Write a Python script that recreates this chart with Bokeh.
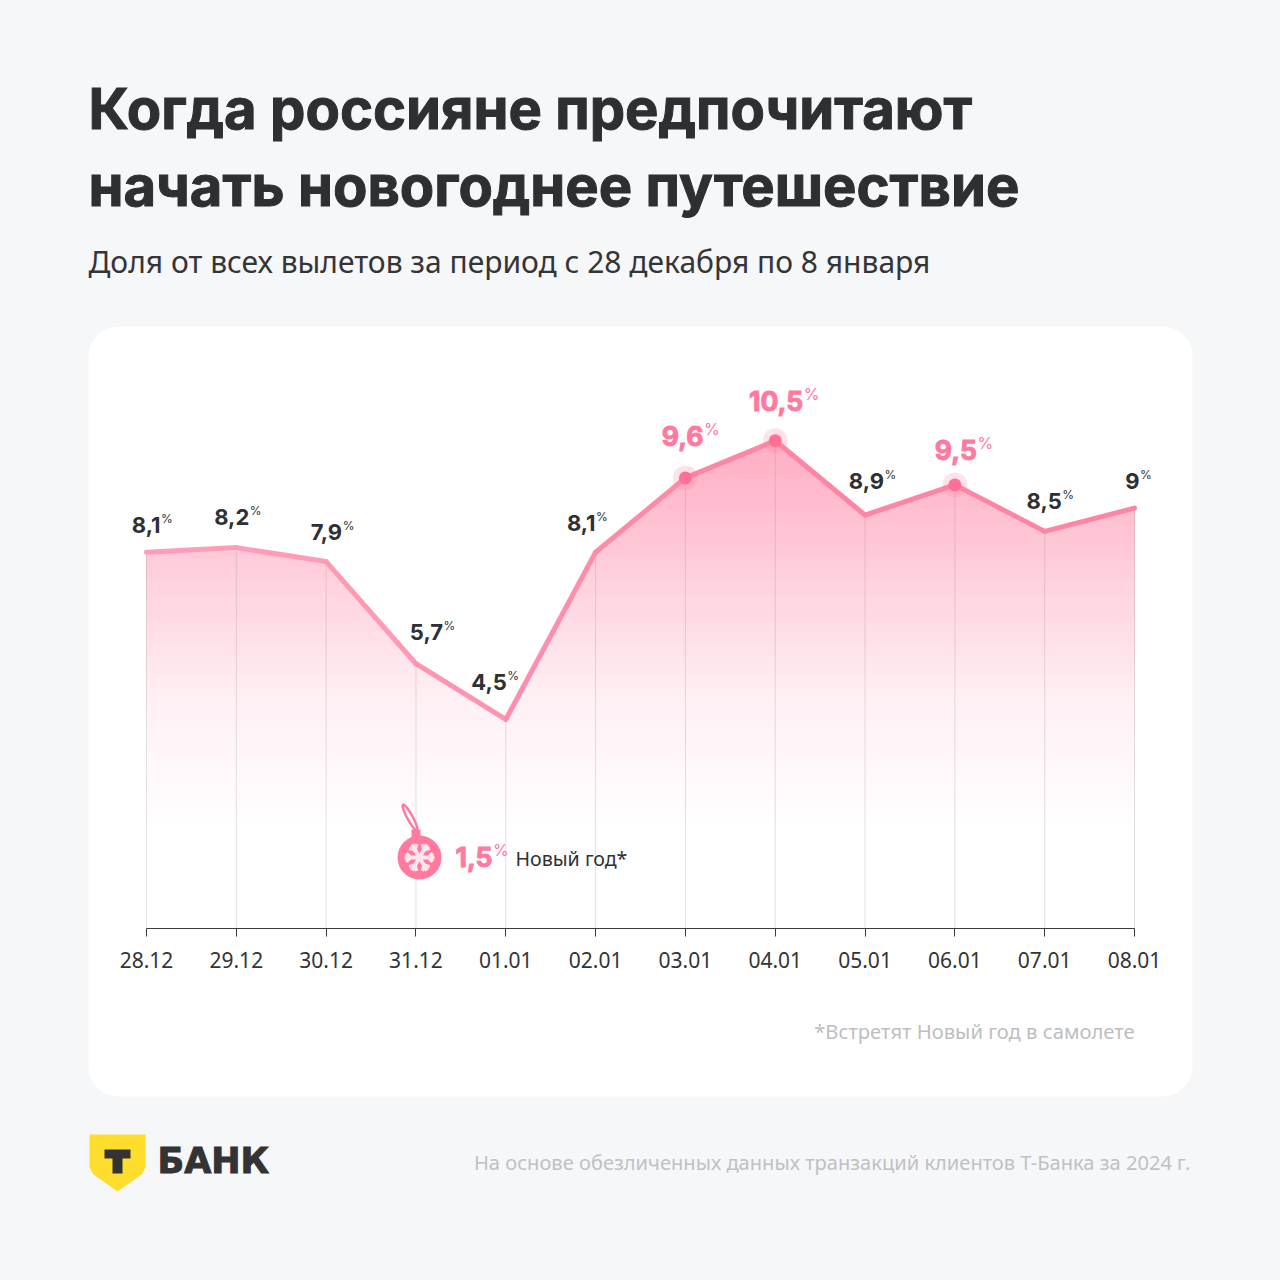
import numpy as np
from bokeh.plotting import figure
from bokeh.models import LinearAxis, FixedTicker, BoxAnnotation, GlobalInlineStyleSheet
from bokeh.core.properties import value
from bokeh.embed import file_html
from bokeh.resources import INLINE

# ---- data ----
dates = ["28.12","29.12","30.12","31.12","01.01","02.01","03.01","04.01","05.01","06.01","07.01","08.01"]
shares = [8.1, 8.2, 7.9, 5.7, 4.5, 8.1, 9.7, 10.5, 8.9, 9.55, 8.55, 9.05]
labels = ["8,1","8,2","7,9","5,7","4,5","8,1","9,6","10,5","8,9","9,5","8,5","9"]
highlighted = [6, 7, 9]
ny_value = "1,5"

# ---- layout (label anchor relative to the point, px) ----
label_dx = [14, 13, 16, 27, 1, 0, 18, 28, 19, 22, 17, 5]
label_cy = [524, 516, 531, 631, 681, 522, 435, 400, 480, 449, 500, 480]

BG = "#F6F7F9"; DARK = "#2F3033"; PINK = "#FF7A9E"
SANS = "Noto Sans"; HEAD = "Inter"
W = H = 1264
SX = 89.82; SY = 46.45
px = lambda x: (x - 146) / SX
py = lambda y: (928 - y) / SY

p = figure(width=W, height=H, output_backend="svg", toolbar_location=None,
           x_range=(px(0), px(W)), y_range=(py(H), py(0)),
           x_axis_location=None, y_axis_location=None, min_border=0,
           background_fill_color=BG, border_fill_color=BG, outline_line_color=None)
p.grid.visible = False
p.stylesheets = [GlobalInlineStyleSheet(css="html,body{background:%s;}" % BG)]

p.add_layout(BoxAnnotation(left=px(88), right=px(1192), top=py(326), bottom=py(1096),
                           border_radius=30, fill_color="white", fill_alpha=1,
                           line_color=None, level="underlay"))

def txt(x, y, s, size, color=DARK, style="normal", align="left", font=SANS, heavy=False):
    kw = dict(text_outline_color=color) if heavy else {}
    p.text([px(x)], [py(y)], text=[s], text_font=value(font), text_font_size=f"{size}px",
           text_font_style=style, text_color=color, text_align=align, text_baseline="middle", **kw)

# titles
txt(88, 108.5, "Когда россияне предпочитают", 56.2, "#2E2F31", "bold", font=HEAD, heavy=True)
txt(88, 185.5, "начать новогоднее путешествие", 56.2, "#2E2F31", "bold", font=HEAD, heavy=True)
txt(88, 261, "Доля от всех вылетов за период с 28 декабря по 8 января", 30, "#343537")

# gradient area: colour stops follow the picture's vertical fade
xs = np.arange(len(shares), dtype=float)
ys = np.array(shares)
stop_y = [py(830), py(800), py(700), py(552), py(440)]
stop_d = [0, 4, 15, 54, 82]
levels = np.arange(py(830), 10.6, 0.08)
for L in levels:
    cross = []
    for i in range(len(xs) - 1):
        a, b = ys[i], ys[i + 1]
        if (a - L) * (b - L) < 0:
            cross.append(xs[i] + (L - a) / (b - a))
    gx = np.sort(np.concatenate([xs, cross]))
    gy = np.interp(gx, xs, ys)
    d = float(np.interp(L, stop_y, stop_d))
    col = "#%02x%02x%02x" % (255, round(255 - d), round(255 - 0.73 * d))
    p.varea(gx, np.full_like(gx, L), np.maximum(gy, L), fill_color=col, fill_alpha=1)

# grid stems
p.segment(xs, 0 * xs, xs, ys, line_color="#8A8A8A", line_alpha=0.25, line_width=1)

# axis
ax = LinearAxis(fixed_location=0, ticker=FixedTicker(ticks=list(range(len(dates)))),
                major_label_overrides={i: d for i, d in enumerate(dates)})
ax.bounds = (0, len(dates) - 1)
ax.axis_line_color = "#3A3A3A"; ax.axis_line_width = 1.2
ax.major_tick_line_color = "#3A3A3A"; ax.major_tick_out = 8; ax.major_tick_in = 0
ax.minor_tick_line_color = None
ax.major_label_text_font = SANS; ax.major_label_text_font_size = "21px"
ax.major_label_text_color = "#333436"; ax.major_label_standoff = 15
p.add_layout(ax, "below")

# line: lighter on the left of the chart, stronger on the right
seg_colors = ["#FF9DB8", "#FF9DB8", "#FF9AB5", "#FF94B0", "#FF8EAC", "#FF8AA8",
              "#FF86A6", "#FF84A5", "#FF84A5", "#FF84A5", "#FF84A5"]
p.segment(xs[:-1], ys[:-1], xs[1:], ys[1:], line_color=seg_colors, line_width=5, line_cap="round")
hx = xs[highlighted]; hy = ys[highlighted]
p.scatter(hx, hy, size=25, fill_color=PINK, fill_alpha=0.22, line_color=None)
p.scatter(hx, hy, size=13, fill_color="#FF6F96", line_color=None)

# labels
for i, s in enumerate(labels):
    big = i in highlighted
    ex = 146 + i * SX + label_dx[i]; cy = label_cy[i]
    col = PINK if big else DARK
    txt(ex, cy, s, 26.5 if big else 22, col, "bold", "right", font=HEAD, heavy=big)
    txt(ex + 0.5, cy - (7 if big else 6), "%", 16 if big else 12, col, "normal", font=HEAD)

# New-year ornament
t = np.linspace(0, 2 * np.pi, 60); ang = np.radians(-64)
lx = 409.5 + 14 * np.cos(t) * np.cos(ang) + 4.5 * np.sin(t) * np.sin(ang) * -1
ly = 817 + 14 * np.cos(t) * np.sin(ang) * -1 + 4.5 * np.sin(t) * np.cos(ang)
p.line(px(lx), py(ly), line_color=PINK, line_width=2.5)
p.patch(px(np.array([411, 420, 420, 411])), py(np.array([829, 829, 840, 840])), fill_color=PINK, line_color=None)
p.scatter([px(419)], [py(857)], size=44, fill_color=PINK, line_color=None)
for a in np.radians([0, 60, 120, 180, 240, 300]):
    ca, sa = np.cos(a), np.sin(a)
    p.line(px(419 + np.array([0, 15]) * ca), py(857 + np.array([0, 15]) * sa), line_color="#FFE6EC", line_width=4)
    for b in (a + 0.8, a - 0.8):
        bx = 419 + 9 * ca; by = 857 + 9 * sa
        p.line(px(np.array([bx, bx + 6 * np.cos(b)])), py(np.array([by, by + 6 * np.sin(b)])), line_color="#FFE6EC", line_width=3.5)

txt(492, 856, ny_value, 26.5, PINK, "bold", "right", font=HEAD, heavy=True)
txt(492.5, 849, "%", 16, PINK, font=HEAD)
txt(515, 858, "Новый год*", 19.6, "#2F3033")

txt(1134, 1030.5, "*Встретят Новый год в самолете", 20.2, "#BDBEC0", align="right")

# logo
p.patch(px(np.array([89, 145, 145, 141, 117, 93, 89])), py(np.array([1134, 1134, 1167, 1174, 1191, 1174, 1167])),
        fill_color="#FFDD2D", line_color=None)
p.patch(px(np.array([104, 130, 130, 122, 122, 112, 112, 104])), py(np.array([1149, 1149, 1158, 1158, 1173, 1173, 1158, 1158])),
        fill_color="#333333", line_color=None)
txt(157, 1160, "БАНК", 35, "#333333", "bold", font="DejaVu Sans", heavy=True)

txt(1190, 1161.5, "На основе обезличенных данных транзакций клиентов Т-Банка за 2024 г.", 20.1, "#BFC1C4", align="right")

open("out.html", "w").write(file_html(p, INLINE))
